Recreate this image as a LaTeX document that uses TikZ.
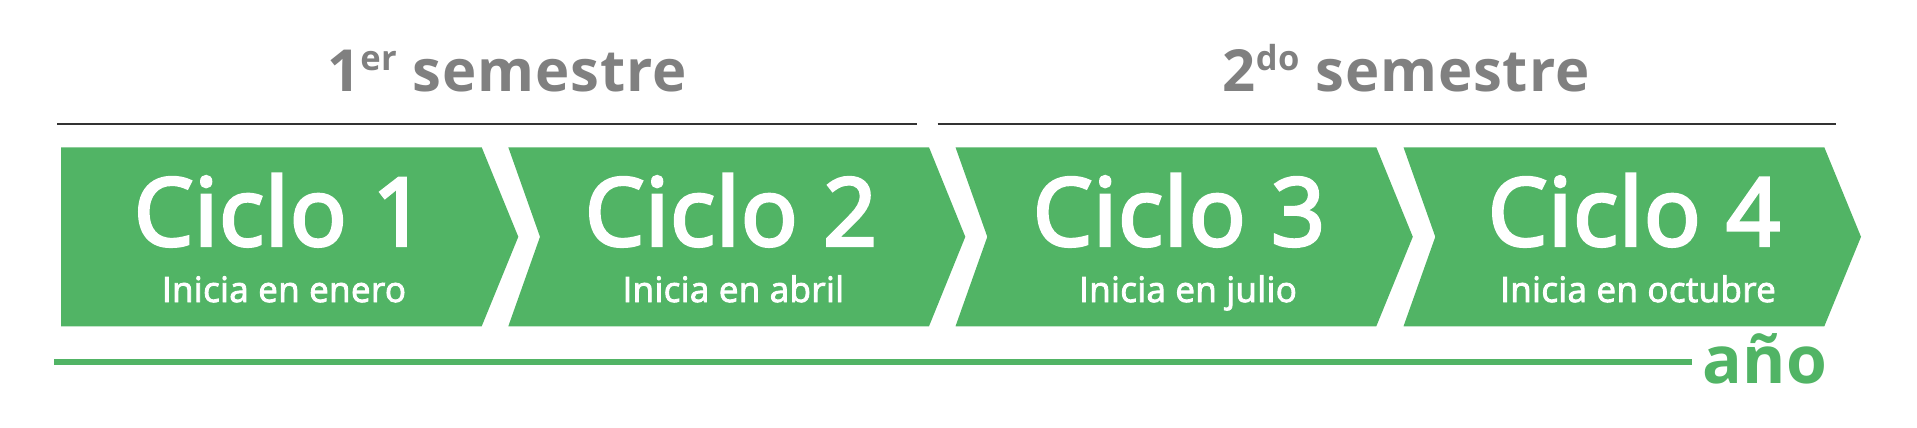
\documentclass[tikz,border=0pt]{standalone}
\usepackage{fontspec}
\setmainfont{Open Sans}
\newfontfamily\semib[FakeBold=3.5,LetterSpace=1.2]{Open Sans}
\newfontfamily\subf[FakeBold=2.5,LetterSpace=1]{Open Sans}
\newfontfamily\headf[LetterSpace=1.5]{Open Sans}
\definecolor{cgreen}{RGB}{81,180,101}
\definecolor{cgray}{RGB}{128,128,128}
\definecolor{cline}{RGB}{51,51,51}
\begin{document}
\begin{tikzpicture}[x=1pt,y=-1pt,
  chev/.style={fill=cgreen,draw=none},
  title/.style={anchor=base,inner sep=0pt,text=white,font=\semib\fontsize{94}{94}\selectfont},
  sub/.style={anchor=base,inner sep=0pt,text=white,font=\subf\fontsize{35}{36}\selectfont},
  semtitle/.style={anchor=base,inner sep=0pt,text=cgray,font=\headf\bfseries\fontsize{58}{58}\selectfont},
  semline/.style={draw=cline,line width=2pt},
  yearline/.style={draw=cgreen,line width=6pt}]
\useasboundingbox (0,0) rectangle (1917,428);
% semester headers
\node[semtitle] (s1) at (507,92) {1\raisebox{21pt}{\fontsize{34.5}{34.5}\selectfont er} semestre};
\node[semtitle] (s2) at (1406,92) {2\raisebox{21pt}{\fontsize{34.5}{34.5}\selectfont do} semestre};
\coordinate (l1a) at (57,124.3);
\coordinate (l1b) at (917.3,124.3);
\coordinate (l2a) at (937.7,124.3);
\coordinate (l2b) at (1835.7,124.3);
\draw[semline] (l1a) -- (l1b);
\draw[semline] (l2a) -- (l2b);
% chevrons
\path[chev] (61,147.3) -- (481.7,147.3) -- (518.3,236.8) -- (481.7,326.3) -- (61,326.3) -- cycle;
\path[chev] (508.3,147.3) -- (929,147.3) -- (965.3,236.8) -- (929,326.3) -- (508.3,326.3) -- (540,236.8) -- cycle;
\path[chev] (955.5,147.3) -- (1376.3,147.3) -- (1412.8,236.8) -- (1376.3,326.3) -- (955.5,326.3) -- (987.3,236.8) -- cycle;
\path[chev] (1403.5,147.3) -- (1824.3,147.3) -- (1861,236.8) -- (1824.3,326.3) -- (1403.5,326.3) -- (1435.3,236.8) -- cycle;
% texts
\node[title] (c1) at (280,245.5) {Ciclo 1};
\node[sub] (i1) at (284,302) {Inicia en enero};
\node[title] (c2) at (731,245.5) {Ciclo 2};
\node[sub] (i2) at (733.3,302) {Inicia en abril};
\node[title] (c3) at (1179,245.5) {Ciclo 3};
\node[sub] (i3) at (1188,302) {Inicia en julio};
\node[title] (c4) at (1634,245.5) {Ciclo 4};
\node[sub] (i4) at (1638,302) {Inicia en octubre};
% year line
\node[anchor=base,inner sep=0pt,text=cgreen,font=\bfseries\fontsize{66}{66}\selectfont] (yr) at (1765,383.3) {año};
\coordinate (ya) at (54,362.3);
\coordinate (yb) at (1692,362.3);
\draw[yearline] (ya) -- (yb);
\end{tikzpicture}
\end{document}
